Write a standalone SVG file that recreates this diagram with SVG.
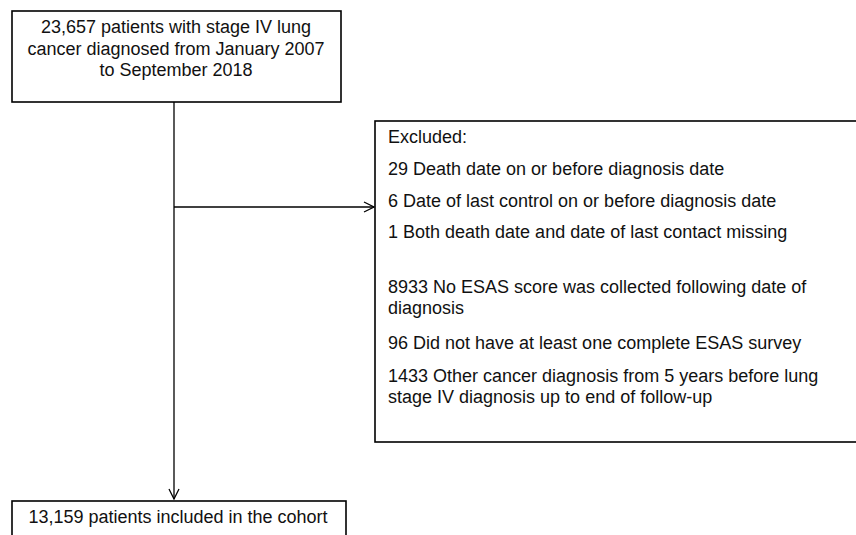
<svg xmlns="http://www.w3.org/2000/svg" width="856" height="535" viewBox="0 0 856 535">
<style>
.box{fill:#fff;stroke:#000;stroke-width:1.6}
.t{font-family:"Liberation Sans",Arial,sans-serif;font-size:18px;fill:#111}
.c{text-anchor:middle}
.ln{stroke:#000;stroke-width:1.3;fill:none}
</style>
<defs>
<marker id="ah" markerWidth="12" markerHeight="12" refX="11" refY="6" orient="auto" markerUnits="userSpaceOnUse">
<path d="M1,1 L11,6 L1,11" fill="none" stroke="#000" stroke-width="1.3"/>
</marker>
</defs>
<rect width="856" height="535" fill="#fff"/>
<g id="connectors">
<line class="ln" x1="174" y1="102" x2="174" y2="499" marker-end="url(#ah)"/>
<line class="ln" x1="174" y1="207" x2="374" y2="207" marker-end="url(#ah)"/>
</g>
<g id="start">
<rect class="box" x="12" y="11" width="329" height="91"/>
<text class="t c" x="176" y="33">23,657 patients with stage IV lung</text>
<text class="t c" x="176" y="55">cancer diagnosed from January 2007</text>
<text class="t c" x="176" y="76">to September 2018</text>
</g>
<g id="excluded">
<rect class="box" x="375" y="121" width="490" height="321"/>
<text class="t" x="388" y="143">Excluded:</text>
<text class="t" x="388" y="175">29 Death date on or before diagnosis date</text>
<text class="t" x="388" y="207">6 Date of last control on or before diagnosis date</text>
<text class="t" x="388" y="238">1 Both death date and date of last contact missing</text>
<text class="t" x="388" y="293">8933 No ESAS score was collected following date of</text>
<text class="t" x="388" y="314">diagnosis</text>
<text class="t" x="388" y="349">96 Did not have at least one complete ESAS survey</text>
<text class="t" x="388" y="382">1433 Other cancer diagnosis from 5 years before lung</text>
<text class="t" x="388" y="403">stage IV diagnosis up to end of follow-up</text>
</g>
<g id="cohort">
<rect class="box" x="12" y="501" width="334" height="50"/>
<text class="t c" x="178" y="523">13,159 patients included in the cohort</text>
</g>
</svg>
